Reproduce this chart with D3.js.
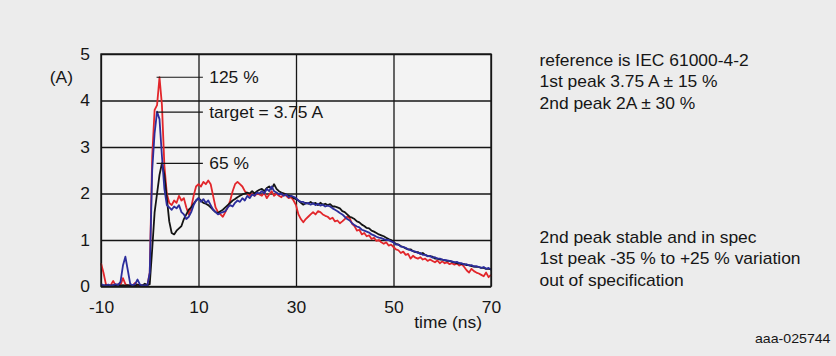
<!DOCTYPE html>
<html>
<head>
<meta charset="utf-8">
<script src="https://cdn.jsdelivr.net/npm/d3@7"></script>
<style>
  html, body { margin: 0; padding: 0; background: #ececec; }
  svg { display: block; font-family: "Liberation Sans", Arial, sans-serif; }
</style>
</head>
<body>
<svg id="chart" width="836" height="356"></svg>
<script>
// ESD discharge current waveforms (IEC 61000-4-2), sampled every 0.5 ns from -10 ns to 70 ns
const tStart = -10, tStep = 0.5;

const redCurrent = [
  0.5, 0.3, 0.05, 0.02, 0.03, 0.12, 0.02, 0.05, 0.03, 0.18,
  0.05, 0.02, 0.03, 0.02, 0.08, 0.02, 0.03, 0.02, 0.03, 0.02,
  0.3, 2.8, 3.8, 3.9, 4.5, 3.9, 2.6, 2.0, 1.8, 1.75,
  1.85, 1.8, 1.95, 1.85, 1.9, 1.7, 1.55, 1.7, 1.95, 2.15,
  2.2, 2.15, 2.25, 2.2, 2.28, 2.2, 1.95, 1.7, 1.6, 1.55,
  1.5, 1.6, 1.7, 1.85, 2.05, 2.2, 2.25, 2.2, 2.15, 2.05,
  2.0, 1.95, 2.0, 1.95, 2.0, 1.98, 1.95, 2.02, 1.9, 1.98,
  2.05, 1.95, 2.0, 1.95, 1.92, 2.0, 1.95, 1.9, 1.92, 1.85,
  1.75, 1.55, 1.45, 1.38, 1.45, 1.5, 1.55, 1.6, 1.55, 1.62,
  1.6, 1.55, 1.52, 1.5, 1.45, 1.48, 1.4, 1.42, 1.36, 1.4,
  1.45, 1.5, 1.47, 1.35, 1.3, 1.2, 1.22, 1.12, 1.15, 1.08,
  1.1, 1.02, 1.05, 0.98, 1.0, 0.95, 0.92, 0.95, 0.88, 0.9,
  0.85, 0.8, 0.78, 0.72, 0.75, 0.68, 0.7, 0.6, 0.66, 0.62,
  0.6, 0.63, 0.58, 0.6, 0.55, 0.58, 0.55, 0.52, 0.56, 0.5,
  0.54, 0.5, 0.52, 0.48, 0.5, 0.47, 0.5, 0.45, 0.48, 0.42,
  0.35, 0.3, 0.38, 0.33, 0.3, 0.28, 0.25, 0.22, 0.3, 0.2,
  0.25
];

const blackCurrent = [
  0.03, 0.02, 0.03, 0.02, 0.02, 0.03, 0.02, 0.04, 0.02, 0.03,
  0.02, 0.03, 0.02, 0.03, 0.02, 0.04, 0.03, 0.02, 0.06, 0.03,
  0.05, 0.8, 1.6, 2.0, 2.4, 2.65, 2.4, 1.9, 1.4, 1.15,
  1.12, 1.2, 1.25, 1.3, 1.45, 1.55, 1.65, 1.7, 1.78, 1.85,
  1.9, 1.85, 1.8, 1.78, 1.75, 1.7, 1.65, 1.6, 1.58, 1.62,
  1.65, 1.7, 1.75, 1.8, 1.85, 1.88, 1.92, 1.95, 1.98, 2.0,
  2.02, 2.0, 2.05, 2.0, 2.05, 2.08, 2.1, 2.05, 2.12, 2.15,
  2.1, 2.2, 2.1, 2.05, 2.02, 2.0, 1.98, 1.95, 1.95, 1.9,
  1.88, 1.85, 1.8, 1.76, 1.8, 1.78, 1.82, 1.78, 1.8, 1.75,
  1.8, 1.76, 1.78, 1.75, 1.77, 1.72, 1.72, 1.7, 1.68, 1.62,
  1.6, 1.55, 1.5, 1.48, 1.45, 1.4, 1.38, 1.33, 1.3, 1.26,
  1.25, 1.2, 1.18, 1.15, 1.12, 1.1, 1.08, 1.05, 1.02, 1.0,
  0.95, 0.92, 0.9, 0.87, 0.85, 0.82, 0.8, 0.8, 0.76, 0.74,
  0.74, 0.7, 0.72, 0.68, 0.66, 0.65, 0.64, 0.6, 0.6, 0.58,
  0.58, 0.56, 0.55, 0.55, 0.53, 0.52, 0.5, 0.5, 0.48, 0.48,
  0.46, 0.46, 0.44, 0.43, 0.42, 0.42, 0.4, 0.4, 0.38, 0.38,
  0.37
];

const blueCurrent = [
  0.05, 0.03, 0.02, 0.04, 0.02, 0.03, 0.05, 0.03, 0.1, 0.45,
  0.64, 0.35, 0.05, 0.03, 0.05, 0.15, 0.04, 0.02, 0.03, 0.02,
  0.3, 2.5, 3.3, 3.76, 3.6, 2.8, 2.1, 1.75, 1.7, 1.65,
  1.72, 1.68, 1.75, 1.6, 1.55, 1.45, 1.5, 1.6, 1.75, 1.85,
  1.9, 1.82, 1.88, 1.8, 1.85, 1.75, 1.65, 1.6, 1.55, 1.58,
  1.6, 1.62, 1.7, 1.75, 1.72, 1.8, 1.85, 1.82, 1.9, 1.85,
  1.95, 1.9, 1.98, 1.95, 2.02, 2.0, 2.05, 2.0, 2.1, 2.05,
  2.15, 2.05, 2.02, 1.98, 2.0, 1.95, 1.98, 1.92, 1.95, 1.93,
  1.9, 1.85, 1.82, 1.82, 1.78, 1.8, 1.76, 1.79, 1.75, 1.78,
  1.74, 1.76, 1.72, 1.74, 1.72, 1.68, 1.65, 1.62, 1.58, 1.55,
  1.5, 1.45, 1.42, 1.36, 1.32, 1.29, 1.27, 1.22, 1.2, 1.18,
  1.16, 1.12, 1.1, 1.07, 1.05, 1.04, 1.02, 1.0, 1.0, 0.97,
  0.95, 0.9, 0.9, 0.86, 0.85, 0.83, 0.8, 0.78, 0.76, 0.75,
  0.72, 0.72, 0.68, 0.68, 0.65, 0.66, 0.62, 0.63, 0.6, 0.6,
  0.58, 0.57, 0.56, 0.55, 0.54, 0.52, 0.53, 0.5, 0.5, 0.47,
  0.48, 0.45, 0.46, 0.43, 0.44, 0.42, 0.4, 0.42, 0.38, 0.4,
  0.36
];

const xTicks = [-10, 10, 30, 50, 70];
const yTicks = [0, 1, 2, 3, 4, 5];

// peak markers: leader line value and its label
const peakLabels = ["125 %", "target = 3.75 A", "65 %"];
const peakValues = [4.5, 3.75, 2.65];

const notesTop = ["reference is IEC 61000-4-2", "1st peak 3.75 A \u00b1 15 %", "2nd peak 2A \u00b1 30 %"];
const notesBottom = ["2nd peak stable and in spec", "1st peak -35 % to +25 % variation", "out of specification"];
const figureId = "aaa-025744";

// ---- layout ----
const W = 836, H = 356;
const plot = { left: 101, top: 54, width: 390, height: 232.5 };
const ink = "#161616";
const sx = 1.09; // slight horizontal widening of the lettering

const svg = d3.select("#chart");
svg.append("rect").attr("width", W).attr("height", H).attr("fill", "#ececec");

const x = d3.scaleLinear().domain([-10, 70]).range([0, plot.width]);
const y = d3.scaleLinear().domain([0, 5]).range([plot.height, 0]);

const g = svg.append("g").attr("transform", `translate(${plot.left},${plot.top})`);
g.append("rect").attr("width", plot.width).attr("height", plot.height).attr("fill", "#f3f3f3");

// grid via axes (plain hyphen-minus in the tick labels)
const plain = d => String(d);
const yAxis = d3.axisLeft(y).tickValues(yTicks).tickSize(-plot.width).tickPadding(11).tickFormat(plain);
const xAxis = d3.axisBottom(x).tickValues(xTicks).tickSize(-plot.height).tickPadding(15).tickFormat(plain);

const gy = g.append("g").call(yAxis);
const gx = g.append("g").attr("transform", `translate(0,${plot.height})`).call(xAxis);
[gx, gy].forEach(a => {
  a.select(".domain").remove();
  a.selectAll(".tick line").attr("stroke", ink).attr("stroke-width", 1.3);
  a.selectAll(".tick text")
    .attr("fill", ink)
    .style("font-size", "16px")
    .style("font-family", "'Liberation Sans', Arial, sans-serif");
});
gy.selectAll(".tick text").attr("x", -11 / sx).attr("transform", `scale(${sx},1)`);
gx.selectAll(".tick text").attr("transform", `scale(${sx},1)`);

// traces
const times = d3.range(redCurrent.length).map(i => tStart + i * tStep);
const line = d3.line().x((d, i) => x(times[i])).y(d => y(d));
const traces = [
  { values: redCurrent, color: "#e2262b" },
  { values: blackCurrent, color: "#141414" },
  { values: blueCurrent, color: "#2c2d9c" }
];
g.append("g").selectAll("path").data(traces).join("path")
  .attr("d", d => line(d.values))
  .attr("fill", "none")
  .attr("stroke", d => d.color)
  .attr("stroke-width", 1.8)
  .attr("stroke-linejoin", "round");

// frame
g.append("rect").attr("width", plot.width).attr("height", plot.height)
  .attr("fill", "none").attr("stroke", ink).attr("stroke-width", 1.4);

// peak leaders and labels
const leaderFrom = 1.4, leaderTo = 10.9, labelAt = 12.2;
const ann = g.append("g");
peakValues.forEach((v, i) => {
  ann.append("line")
    .attr("x1", x(leaderFrom)).attr("x2", x(leaderTo))
    .attr("y1", y(v)).attr("y2", y(v))
    .attr("stroke", ink).attr("stroke-width", 1.2);
  ann.append("text")
    .attr("transform", `translate(${x(labelAt)},${y(v)}) scale(${sx},1)`)
    .attr("dy", "0.35em")
    .attr("fill", ink).style("font-size", "16px")
    .text(peakLabels[i]);
});

// axis titles
svg.append("text")
  .attr("transform", `translate(73,83) scale(${sx},1)`)
  .attr("text-anchor", "end").attr("fill", ink).style("font-size", "16px")
  .text("(A)");
svg.append("text")
  .attr("transform", `translate(482,328) scale(${sx},1)`)
  .attr("text-anchor", "end").attr("fill", ink).style("font-size", "16px")
  .text("time (ns)");

// side notes
const noteBlock = (lines, baseY) => {
  lines.forEach((t, i) => {
    svg.append("text")
      .attr("transform", `translate(539.5,${baseY + i * 21.3}) scale(${sx},1)`)
      .attr("fill", ink).style("font-size", "16px")
      .text(t);
  });
};
noteBlock(notesTop, 66);
noteBlock(notesBottom, 243);

svg.append("text")
  .attr("transform", `translate(830.5,342.5) scale(${sx},1)`)
  .attr("text-anchor", "end").attr("fill", ink).style("font-size", "13px")
  .text(figureId);
</script>
</body>
</html>
